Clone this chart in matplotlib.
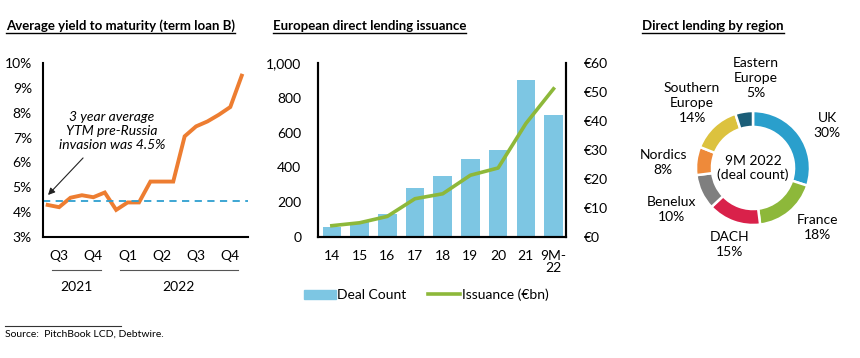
import matplotlib
matplotlib.use('Agg')
import matplotlib.pyplot as plt
import matplotlib.transforms as mtransforms
import numpy as np
from matplotlib.lines import Line2D
from matplotlib.patches import Patch

plt.rcParams['font.family'] = ['Lato', 'DejaVu Sans']

# ---------------- data ----------------
months = ['Jul-21', 'Aug-21', 'Sep-21', 'Oct-21', 'Nov-21', 'Dec-21',
          'Jan-22', 'Feb-22', 'Mar-22', 'Apr-22', 'May-22', 'Jun-22',
          'Jul-22', 'Aug-22', 'Sep-22', 'Oct-22', 'Nov-22', 'Dec-22']
ytm = [4.29, 4.20, 4.58, 4.68, 4.60, 4.79, 4.09, 4.39, 4.39, 5.23, 5.23, 5.23,
       7.05, 7.45, 7.65, 7.92, 8.23, 9.49]
ytm_avg = 4.46
quarter_labels = ['Q3', 'Q4', 'Q1', 'Q2', 'Q3', 'Q4']
year_labels = ['2021', '2022']
ytm_ticks = [3, 4, 5, 6, 7, 8, 9, 10]

issue_years = ['14', '15', '16', '17', '18', '19', '20', '21', '9M-\n22']
deal_count = [59, 88, 132, 281, 349, 450, 498, 900, 699]
issuance = [3.9, 4.9, 7.1, 13.2, 14.9, 21.3, 23.8, 39.1, 51.1]
count_ticks = [0, 200, 400, 600, 800, 1000]
issuance_ticks = [0, 10, 20, 30, 40, 50, 60]

regions = ['UK', 'France', 'DACH', 'Benelux', 'Nordics', 'Southern\nEurope', 'Eastern\nEurope']
region_share = [30, 18, 15, 10, 8, 14, 5]
region_colors = ['#2A9FCC', '#8DB83A', '#D9214A', '#7F7F7F', '#EE8A3A', '#DCC23E', '#1B5E78']

# ---------------- figure ----------------
W, H = 860, 358
fig = plt.figure(figsize=(W / 100, H / 100), dpi=100)

def fx(px):
    return px / W

def fy(py):
    return 1 - py / H

FS = 10
ORANGE = '#ED7D31'
BLUE_DASH = '#2E9FD0'
BAR = '#7DC6E3'
GREEN = '#8DB83A'

# ---------- left chart ----------
ax1 = fig.add_axes([fx(43), fy(237), fx(248 - 43), fy(63) - fy(237)])
x = np.arange(len(months))
ax1.plot(x, ytm, color=ORANGE, lw=2.8, solid_joinstyle='miter')
ax1.axhline(ytm_avg, color=BLUE_DASH, lw=1.3, ls=(0, (4, 3)))
ax1.set_ylim(3, 10)
ax1.set_xlim(-0.41, len(months) - 0.45)
ax1.set_yticks(ytm_ticks)
ax1.set_yticklabels([f'{t}%' for t in ytm_ticks], fontsize=FS)
qpos = [i for i, m in enumerate(months) if m[:3] in ('Feb', 'May', 'Aug', 'Nov')]
ax1.set_xticks(qpos)
ax1.set_xticklabels(quarter_labels, fontsize=FS)
ax1.tick_params(length=0, pad=9)
ax1.tick_params(axis='y', pad=8)
for s in ['top', 'right']:
    ax1.spines[s].set_visible(False)
for s in ['left', 'bottom']:
    ax1.spines[s].set_linewidth(1.5)
# year grouping
blend = mtransforms.blended_transform_factory(ax1.transData, ax1.transAxes)
suffix = [m[-2:] for m in months]
for yl in year_labels:
    idx = [i for i, s in enumerate(suffix) if s == yl[-2:]]
    start, end = idx[0], idx[-1]
    ax1.add_line(Line2D([start + 0.35, end - 0.3], [-0.19, -0.19],
                        transform=blend, color='#555555', lw=0.8, clip_on=False))
    ax1.text((start + end) / 2, -0.29, yl, transform=blend, ha='center', va='center',
             fontsize=FS, clip_on=False)
ax1.text(5.64, 7.28, '3 year average\nYTM pre-Russia\ninvasion was 4.5%',
         ha='center', va='center', fontsize=FS, style='italic', linespacing=1.2)
ax1.annotate('', xy=(0.03, 4.69), xytext=(3.1, 6.18),
             arrowprops=dict(arrowstyle='-|>', color='#222222', lw=0.8, mutation_scale=10,
                             shrinkA=0, shrinkB=0))

# ---------- middle chart ----------
ax2 = fig.add_axes([fx(318), fy(237), fx(566 - 318), fy(63) - fy(237)])
xb = np.arange(len(issue_years))
ax2.bar(xb, deal_count, width=0.67, color=BAR, label='Deal Count')
ax2.set_ylim(0, 1000)
ax2.set_xlim(-0.5, len(issue_years) - 0.55)
ax2.set_yticks(count_ticks)
ax2.set_yticklabels([f'{t:,}' for t in count_ticks], fontsize=FS)
ax2.set_xticks(xb)
ax2.set_xticklabels(issue_years, fontsize=FS, linespacing=1.1)
ax2.tick_params(length=0)
ax2.tick_params(axis='x', pad=9)
ax2.tick_params(axis='y', pad=12)
ax2.spines['top'].set_visible(False)
ax3 = ax2.twinx()
ax3.plot(xb, issuance, color=GREEN, lw=2.6, label='Issuance (€bn)')
ax3.set_ylim(0, 60)
ax3.set_yticks(issuance_ticks)
ax3.set_yticklabels([f'€{t}' for t in issuance_ticks], fontsize=FS)
ax3.tick_params(length=0, pad=13)
ax3.spines['top'].set_visible(False)
for a in (ax2, ax3):
    for s in ['left', 'right', 'bottom']:
        a.spines[s].set_linewidth(1.5)
handles = [Patch(color=BAR, label='Deal Count'),
           Line2D([0], [0], color=GREEN, lw=2.6, label='Issuance (€bn)')]
fig.legend(handles=handles, loc='center', bbox_to_anchor=(fx(426), fy(295)), ncol=2,
           frameon=False, fontsize=FS, handlelength=2.3, handletextpad=0.1,
           columnspacing=1.6)

# ---------- donut ----------
cx, cy, R = 753, 168, 57
half = 75
ax4 = fig.add_axes([fx(cx - half), fy(cy + half), fx(2 * half), fy(cy - half) - fy(cy + half)])
wedges, _ = ax4.pie(region_share, colors=region_colors, startangle=90, counterclock=False,
                    radius=1, wedgeprops=dict(width=0.28, edgecolor='white', linewidth=1.8))
ax4.set_xlim(-half / R, half / R)
ax4.set_ylim(-half / R, half / R)
ax4.set_aspect('equal')
ax4.axis('off')
label_r = [1.50, 1.54, 1.41, 1.60, 1.58, 1.56, 1.58]
label_da = [-6, 8, 3, 2, 4, 0, -11]
for w, lab, share, r, da in zip(wedges, regions, region_share, label_r, label_da):
    ang = np.deg2rad((w.theta1 + w.theta2) / 2 + da)
    ax4.text(r * np.cos(ang), r * np.sin(ang), f'{lab}\n{share}%', ha='center', va='center',
             fontsize=FS, linespacing=1.3, clip_on=False)
ax4.text(0, 0, '9M 2022\n(deal count)', ha='center', va='center', fontsize=FS, linespacing=1.1)

# ---------- titles ----------
titles = [('Average yield to maturity (term loan B)', 6),
          ('European direct lending issuance', 273),
          ('Direct lending by region', 642)]
tobjs = []
for t, xp in titles:
    tobjs.append(fig.text(fx(xp), fy(30), t, ha='left', va='baseline', fontsize=9.5,
                          fontweight='bold'))

src = fig.text(fx(5), fy(334), 'Source:  PitchBook LCD, Debtwire.', ha='left', va='center',
               fontsize=7.5)
fig.add_artist(Line2D([fx(5), fx(121)], [fy(326), fy(326)], transform=fig.transFigure,
                      color='#333333', lw=0.8))

fig.canvas.draw()
inv = fig.transFigure.inverted()
for t in tobjs:
    bb = t.get_window_extent()
    (x0, _), (x1, _) = inv.transform([[bb.x0, bb.y0], [bb.x1, bb.y1]])
    fig.add_artist(Line2D([x0, x1], [fy(33), fy(33)], transform=fig.transFigure,
                          color='black', lw=1.0))

fig.savefig('out.png', dpi=100)
